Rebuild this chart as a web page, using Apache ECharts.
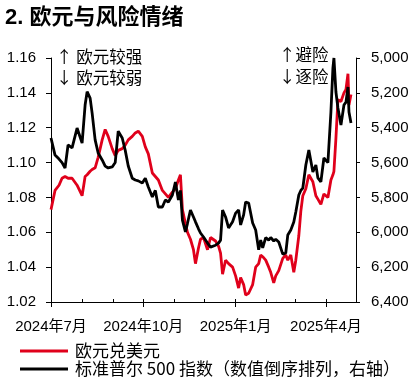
<!DOCTYPE html>
<html>
<head>
<meta charset="utf-8">
<script src="https://cdn.jsdelivr.net/npm/echarts@6/dist/echarts.min.js"></script>
<style>
html,body{margin:0;padding:0;background:#fff;}
#chart{width:414px;height:386px;}
</style>
</head>
<body>
<div id="chart"></div>
<script>
// ---- data ----
const titleText = '2. 欧元与风险情绪';
const seriesNames = ['欧元兑美元', '标准普尔 500 指数（数值倒序排列，右轴）'];
const axisStart = '2024-07-01';
const axisEnd = '2025-05-01';
const quarterTicks = ['2024-07-01', '2024-10-01', '2025-01-01', '2025-04-01'];
const quarterLabels = ['2024年7月', '2024年10月', '2025年1月', '2025年4月'];
const leftTicks = [1.02, 1.04, 1.06, 1.08, 1.10, 1.12, 1.14, 1.16];
const rightTicks = [5000, 5200, 5400, 5600, 5800, 6000, 6200, 6400];

const dates = [
'2024-07-01','2024-07-05','2024-07-09','2024-07-12','2024-07-15','2024-07-18','2024-07-22','2024-07-27',
'2024-08-01','2024-08-04','2024-08-06','2024-08-09','2024-08-11','2024-08-14','2024-08-17','2024-08-21','2024-08-24','2024-08-27','2024-08-31',
'2024-09-03','2024-09-06','2024-09-10','2024-09-13','2024-09-16','2024-09-20','2024-09-23','2024-09-26','2024-09-30',
'2024-10-03','2024-10-06','2024-10-10','2024-10-13','2024-10-16','2024-10-20','2024-10-23','2024-10-26','2024-10-30',
'2024-11-02','2024-11-05','2024-11-07','2024-11-09','2024-11-12','2024-11-14','2024-11-17','2024-11-20','2024-11-22','2024-11-25','2024-11-27','2024-11-30',
'2024-12-04','2024-12-07','2024-12-12','2024-12-15','2024-12-17','2024-12-19','2024-12-22','2024-12-25','2024-12-29',
'2025-01-01','2025-01-04','2025-01-06','2025-01-09','2025-01-11','2025-01-14','2025-01-18','2025-01-21','2025-01-24','2025-01-26','2025-01-28','2025-01-31',
'2025-02-03','2025-02-05','2025-02-08','2025-02-10','2025-02-13','2025-02-17','2025-02-20','2025-02-22','2025-02-25','2025-02-28',
'2025-03-02','2025-03-05','2025-03-07','2025-03-09','2025-03-12','2025-03-15','2025-03-19','2025-03-22','2025-03-24','2025-03-27','2025-03-30',
'2025-04-03','2025-04-06','2025-04-08','2025-04-09','2025-04-11','2025-04-13','2025-04-16','2025-04-19','2025-04-21','2025-04-23','2025-04-24','2025-04-26'
];

const eurusd = [
1.073,1.084,1.087,1.091,1.092,1.091,1.091,1.087,
1.081,1.092,1.093,1.095,1.096,1.097,1.103,1.113,1.119,1.115,1.108,
1.104,1.107,1.108,1.110,1.113,1.115,1.117,1.118,1.115,
1.109,1.105,1.094,1.092,1.090,1.084,1.082,1.080,1.083,
1.085,1.090,1.093,1.073,1.065,1.060,1.056,1.050,1.042,1.051,1.056,1.057,
1.050,1.057,1.055,1.052,1.048,1.036,1.044,1.042,1.040,
1.035,1.028,1.034,1.030,1.024,1.025,1.030,1.040,1.042,1.047,1.046,1.044,
1.040,1.037,1.031,1.035,1.038,1.045,1.047,1.044,1.047,1.037,
1.044,1.058,1.072,1.081,1.085,1.093,1.089,1.081,1.079,1.076,1.082,
1.080,1.090,1.093,1.095,1.114,1.136,1.135,1.140,1.142,1.151,1.133,1.139
];

const spx = [
5459,5557,5580,5600,5631,5499,5516,5402,
5488,5270,5193,5230,5316,5470,5545,5585,5620,5631,5625,
5600,5420,5459,5530,5620,5690,5700,5705,5717,
5690,5740,5797,5760,5855,5855,5815,5826,5786,
5712,5815,5760,5930,5998,5950,5872,5912,5940,5980,6004,6027,
6062,6085,6074,6062,6045,5872,5912,5975,5940,
5890,5872,5958,5900,5826,5832,5947,5987,6100,6045,6090,6030,
6045,6030,6050,6040,6056,6125,6119,6016,5987,5941,
5884,5786,5760,5746,5614,5528,5654,5614,5688,5711,5574,
5600,5310,5057,5000,5195,5287,5385,5270,5253,5166,5310,5373
];

// ---- build daily category axis ----
function ymd(t){const d=new Date(t);const m=d.getUTCMonth()+1,dd=d.getUTCDate();return d.getUTCFullYear()+'-'+(m<10?'0':'')+m+'-'+(dd<10?'0':'')+dd;}
const categories = [];
{
  const s = Date.parse(axisStart + 'T00:00:00Z'), e = Date.parse(axisEnd + 'T00:00:00Z');
  for (let t = s; t <= e; t += 86400000) categories.push(ymd(t));
}
const idx = {}; categories.forEach((c,i)=>idx[c]=i);
const redData = dates.map((d,i)=>[idx[d], eurusd[i]]);
const blackData = dates.map((d,i)=>[idx[d], spx[i]]);

const latin = "'Liberation Sans', 'Noto Sans CJK SC', sans-serif";
const cjk = "'Noto Sans CJK SC', sans-serif";
const RED = '#E0001B';

const chart = echarts.init(document.getElementById('chart'), null, {renderer:'canvas'});
chart.setOption({
  backgroundColor: '#fff',
  animation: false,
  title: {
    text: titleText, left: 5, top: 7, padding: 0,
    textStyle: {fontFamily: latin, fontSize: 22, fontWeight: 'bold', color: '#000'}
  },
  grid: {left: 51, right: 58, top: 58, bottom: 84, containLabel: false},
  legend: {
    orient: 'vertical', left: 20, top: 342, padding: 0, itemGap: 0,
    icon: 'rect', itemWidth: 48, itemHeight: 3,
    data: seriesNames,
    textStyle: {fontFamily: cjk, fontSize: 17, color: '#000', lineHeight: 18, padding: [0,0,0,2]}
  },
  xAxis: [{
    type: 'category', data: categories, boundaryGap: false,
    axisLine: {lineStyle: {color: '#000', width: 1}},
    axisTick: {inside: true, length: 3, lineStyle: {color: '#000'},
      interval: (i, v) => v.slice(8) === '01'},
    axisLabel: {
      interval: (i, v) => quarterTicks.indexOf(v) >= 0,
      formatter: v => { const k = quarterTicks.indexOf(v); return k >= 0 ? quarterLabels[k] : ''; },
      margin: 17, fontFamily: latin, fontSize: 15, color: '#000'
    },
    splitLine: {show: false}
  }, {
    type: 'category', data: categories, boundaryGap: false, position: 'bottom', gridIndex: 0,
    axisLine: {show: false},
    axisTick: {inside: false, length: 5, lineStyle: {color: '#000'},
      interval: (i, v) => quarterTicks.indexOf(v) >= 0},
    axisLabel: {show: false},
    splitLine: {show: false}
  }],
  yAxis: [{
    type: 'value', position: 'left', min: leftTicks[0], max: leftTicks[leftTicks.length-1], interval: 0.02,
    axisLine: {show: true, lineStyle: {color: '#000'}},
    axisTick: {show: true, length: 5, lineStyle: {color: '#000'}},
    axisLabel: {margin: 15, fontFamily: latin, fontSize: 15, color: '#000', formatter: v => v.toFixed(2)},
    splitLine: {show: false}
  }, {
    type: 'value', position: 'right', inverse: true, min: rightTicks[0], max: rightTicks[rightTicks.length-1], interval: 200,
    axisLine: {show: true, lineStyle: {color: '#000'}},
    axisTick: {show: true, length: 4, lineStyle: {color: '#000'}},
    axisLabel: {margin: 15, fontFamily: latin, fontSize: 15, color: '#000',
      formatter: v => String(v).replace(/\B(?=(\d{3})+(?!\d))/g, ',')},
    splitLine: {show: false}
  }],
  series: [{
    name: seriesNames[0], type: 'line', xAxisIndex: 0, yAxisIndex: 0,
    data: redData, showSymbol: false, symbol: 'none',
    lineStyle: {color: RED, width: 2.8}, itemStyle: {color: RED}
  }, {
    name: seriesNames[1], type: 'line', xAxisIndex: 0, yAxisIndex: 1,
    data: blackData, showSymbol: false, symbol: 'none',
    lineStyle: {color: '#000', width: 2.8}, itemStyle: {color: '#000'}
  }],
  graphic: [
    {type: 'text', left: 56, top: 48, style: {text: '↑ 欧元较强', font: '16.5px ' + cjk, fill: '#000'}},
    {type: 'text', left: 56, top: 69, style: {text: '↓ 欧元较弱', font: '16.5px ' + cjk, fill: '#000'}},
    {type: 'text', left: 279, top: 46, style: {text: '↑避险', font: '16.5px ' + cjk, fill: '#000'}},
    {type: 'text', left: 279, top: 68, style: {text: '↓逐险', font: '16.5px ' + cjk, fill: '#000'}}
  ]
});
</script>
</body>
</html>
